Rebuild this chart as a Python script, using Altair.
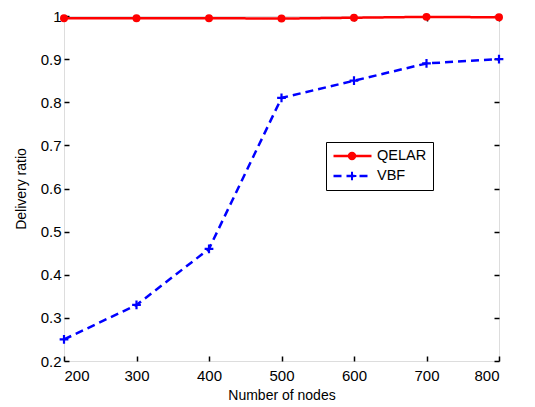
import altair as alt
import pandas as pd

nodes = [200, 300, 400, 500, 600, 700, 800]
qelar = [0.995, 0.995, 0.995, 0.994, 0.996, 0.998, 0.997]
vbf = [0.25, 0.33, 0.46, 0.81, 0.85, 0.89, 0.90]
series_names = ["QELAR", "VBF"]
marker_names = ["QELAR marker", "VBF marker"]
line_colors = ["#ff0000", "#0000ff"]
x_ticks = [200, 300, 400, 500, 600, 700, 800]
y_ticks = [0.2, 0.3, 0.4, 0.5, 0.6, 0.7, 0.8, 0.9, 1.0]

df = pd.DataFrame({
    "nodes": nodes * 2,
    "ratio": qelar + vbf,
    "series": ["QELAR"] * len(nodes) + ["VBF"] * len(nodes),
})
df["marker"] = df["series"] + " marker"

W, H = 435, 345
FONT = "Liberation Sans"
LX, LY = 262, 126
SYM = 1444  # 38px legend line sample

xs = alt.Scale(domain=[200, 800], nice=False, zero=False)
ys = alt.Scale(domain=[0.2, 1.0], nice=False, zero=False)

CIRCLE = "M0.17,0A0.17,0.17,0,1,1,-0.17,0A0.17,0.17,0,1,1,0.17,0Z"
CROSS = "M-0.23,0H0.23M0,-0.23V0.23"


def ax_x(**kw):
    base = dict(values=x_ticks, domain=False, grid=False, tickColor="black",
                tickWidth=1.5, tickSize=5)
    base.update(kw)
    return alt.Axis(**base)


def ax_y(**kw):
    base = dict(values=y_ticks, domain=False, grid=False, tickColor="black",
                tickWidth=1.5, tickSize=5)
    base.update(kw)
    return alt.Axis(**base)


def legend_common(**kw):
    base = dict(title=None, orient="none", legendX=LX, legendY=LY,
                symbolSize=SYM, labelFont=FONT, labelFontSize=14.5,
                padding=6, rowPadding=4, clipHeight=16, labelOffset=4,
                cornerRadius=0)
    base.update(kw)
    return alt.Legend(**base)


line_legend = legend_common(symbolType="stroke", symbolStrokeWidth=2.5,
                            labelColor="black", strokeColor="black",
                            fillColor="white", zindex=1)

lines = alt.Chart(df).mark_line(strokeWidth=2.5).encode(
    x=alt.X("nodes:Q", scale=xs, title="Number of nodes",
            axis=ax_x(orient="bottom", ticks=False, labelFontSize=15, labelFont=FONT,
                      labelColor="black", titleFont=FONT, titleFontSize=14,
                      titleFontWeight="normal", titleColor="black", labelPadding=7,
                      titlePadding=5)),
    y=alt.Y("ratio:Q", scale=ys, title="Delivery ratio",
            axis=ax_y(orient="left", ticks=False, format=".1~f", labelFontSize=15,
                      labelFont=FONT, labelColor="black", titleFont=FONT,
                      titleFontSize=14, titleFontWeight="normal", titleColor="black",
                      labelPadding=3, titlePadding=12)),
    color=alt.Color("series:N", scale=alt.Scale(domain=series_names, range=line_colors),
                    legend=line_legend),
    strokeDash=alt.StrokeDash("series:N",
                              scale=alt.Scale(domain=series_names, range=[[1, 0], [8, 5]]),
                              legend=line_legend),
)

marker_legend = legend_common(labelExpr="''", symbolStrokeWidth=2, zindex=2)
fill_enc = alt.Fill("marker:N", scale=alt.Scale(domain=marker_names, range=["#ff0000", "transparent"]),
                    legend=marker_legend)
stroke_enc = alt.Stroke("marker:N", scale=alt.Scale(domain=marker_names, range=line_colors),
                        legend=marker_legend)
shape_enc = alt.Shape("marker:N", scale=alt.Scale(domain=marker_names, range=[CIRCLE, CROSS]),
                      legend=marker_legend)

pts_q = alt.Chart(df).transform_filter(alt.datum.series == "QELAR").mark_point(
    size=SYM, strokeWidth=1.5, opacity=1
).encode(
    x=alt.X("nodes:Q", scale=xs, title=None,
            axis=ax_x(orient="top", offset=-H, labels=False)),
    y=alt.Y("ratio:Q", scale=ys, title=None,
            axis=ax_y(orient="right", offset=-W, labels=False)),
    fill=fill_enc, stroke=stroke_enc, shape=shape_enc,
)

pts_v = alt.Chart(df).transform_filter(alt.datum.series == "VBF").mark_point(
    size=SYM, strokeWidth=2.2, opacity=1
).encode(
    x=alt.X("nodes:Q", scale=xs, title=None,
            axis=ax_x(orient="bottom", offset=-H, labels=False)),
    y=alt.Y("ratio:Q", scale=ys, title=None,
            axis=ax_y(orient="left", offset=-W, labels=False)),
    fill=fill_enc, stroke=stroke_enc, shape=shape_enc,
)

chart = alt.layer(lines, pts_q, pts_v).resolve_axis(
    x="independent", y="independent"
).properties(
    width=W, height=H,
    autosize=alt.AutoSizeParams(type="none"),
    padding={"left": 56, "top": 8, "right": 20, "bottom": 46},
).configure_view(stroke="black", strokeWidth=2.5).configure(background="white")

chart.save("out.html", embed_options={"renderer": "svg", "actions": False})
